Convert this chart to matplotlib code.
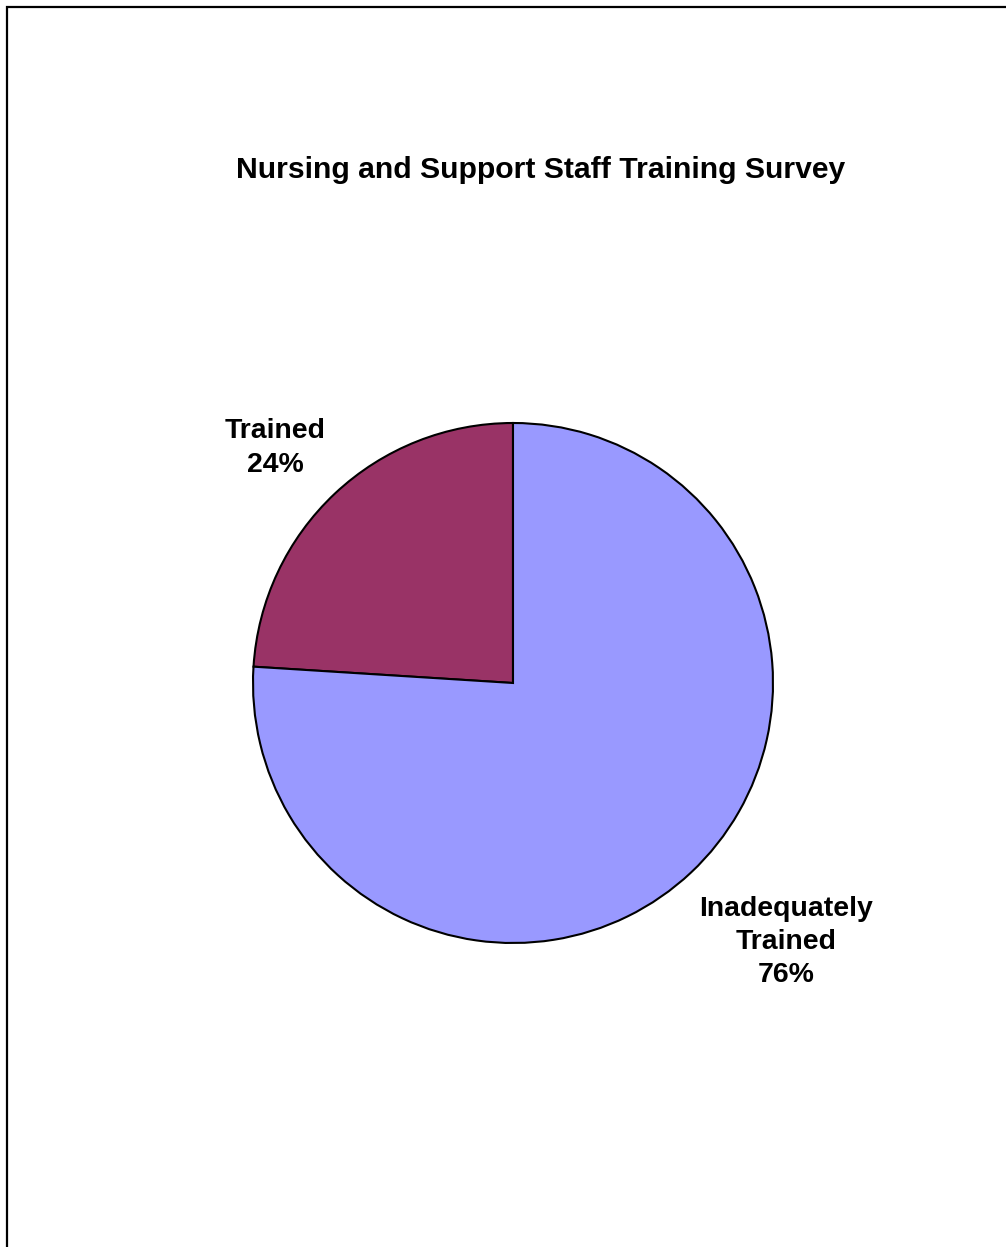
import matplotlib
matplotlib.use("Agg")
import matplotlib.pyplot as plt
from matplotlib.patches import Rectangle

plt.rcParams['font.family'] = ['Liberation Sans', 'DejaVu Sans']

title = "Nursing and Support Staff Training Survey"
categories = ["Trained", "Inadequately\nTrained"]
values = [24, 76]
colors = ["#993366", "#9999FF"]

W, H = 1006, 1247
fig = plt.figure(figsize=(W / 100, H / 100), dpi=100)

# border (only left and top visible; right/bottom beyond the canvas)
fig.patches.append(Rectangle((7 / W, -0.1), 1.2, (H - 7) / H + 0.1, transform=fig.transFigure,
                             fill=False, edgecolor="black", linewidth=1.6))

cx, cy, r = 513, 683, 260
ax = fig.add_axes([(cx - r) / W, (H - cy - r) / H, 2 * r / W, 2 * r / H])
ax.pie(values, colors=colors, startangle=90, counterclock=True,
       wedgeprops=dict(edgecolor="black", linewidth=1.5), radius=1.0)
ax.set_xlim(-1.0, 1.0)
ax.set_ylim(-1.0, 1.0)
ax.set_aspect("equal")
ax.axis("off")

fig.text(541 / W, 1 - 170 / H, title, ha="center", va="center",
         fontsize=21.7, fontweight="bold")

label_pos = [(275, 448), (786, 942)]
total = sum(values)
for cat, v, (x, y) in zip(categories, values, label_pos):
    fig.text(x / W, 1 - y / H, f"{cat}\n{round(100 * v / total)}%", ha="center", va="center",
             fontsize=20.4, fontweight="bold", linespacing=1.35)

fig.savefig("out.png", dpi=100)
